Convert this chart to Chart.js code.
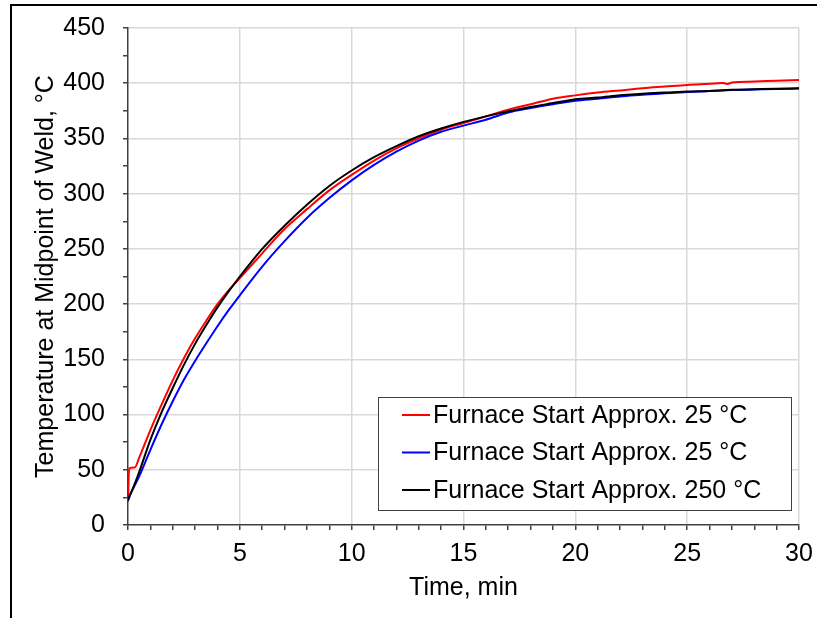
<!DOCTYPE html>
<html>
<head>
<meta charset="utf-8">
<script src="https://cdn.jsdelivr.net/npm/chart.js@4.4.1/dist/chart.umd.min.js"></script>
<style>
  html, body { margin: 0; padding: 0; background: #fff; }
  #wrap { position: relative; width: 817px; height: 618px; overflow: hidden; }
  #frame {
    position: absolute; left: 10px; top: 4px; width: 900px; height: 700px;
    border-left: 2px solid #000; border-top: 2px solid #000; pointer-events: none;
  }
  canvas { position: absolute; left: 0; top: 0; }
</style>
</head>
<body>
<div id="wrap">
  <canvas id="chart" width="817" height="618"></canvas>
  <div id="frame"></div>
</div>
<script>
// Weld midpoint temperature vs. time
const seriesLabels = [
  'Furnace Start Approx. 25 °C',
  'Furnace Start Approx. 25 °C',
  'Furnace Start Approx. 250 °C'
];

const timeRed = [0, 0.05, 0.3, 0.5, 1, 1.5, 2, 2.5, 3, 3.5, 4, 4.5, 5, 6, 7, 8, 9, 10, 11, 12, 13, 14, 15,
  16, 17, 18, 19, 20, 21, 22, 23, 24, 25, 26, 26.6, 26.8, 27, 28, 29, 30];
const tempRed = [21, 51, 52, 61, 86, 109, 131, 151, 169, 185, 200, 212.5, 223.5, 246, 268, 286, 303, 317, 330, 341, 350, 358, 364,
  370, 376, 381, 386, 389, 391.5, 393.5, 395.5, 397, 398.5, 399.5, 400.2, 399.4, 400.6, 401.5, 402.3, 403];

const timeBlue = [0, 0.5, 1, 1.5, 2, 2.5, 3, 3.5, 4, 4.5, 5, 6, 7, 8, 9, 10, 11, 12, 13, 14, 15,
  16, 17, 18, 19, 20, 21, 22, 23, 24, 25, 26, 27, 28, 29, 30];
const tempBlue = [24, 44, 68, 91, 112, 131.5, 148.5, 164.5, 180, 194.5, 208, 234, 257, 278, 296, 312, 326, 338, 348, 356, 361.6,
  367, 373.5, 377.5, 381, 384.2, 386, 388, 389.5, 391, 392, 393, 393.8, 394.3, 394.8, 395.2];

const timeBlack = [0, 0.5, 1, 1.5, 2, 2.5, 3, 3.5, 4, 4.5, 5, 6, 7, 8, 9, 10, 11, 12, 13, 14, 15,
  16, 17, 18, 19, 20, 21, 22, 23, 24, 25, 26, 27, 28, 29, 30];
const tempBlack = [22, 48, 77, 102, 124, 145, 164, 181, 197, 211.5, 225, 250, 271, 290, 307, 321, 333, 343, 352, 359, 365,
  370, 374.5, 378.5, 382, 385.5, 387, 389, 390.5, 391.5, 392.4, 393, 394, 394.5, 395, 395.4];

const xMin = 0, xMax = 30, xMinor = 1, xMajor = 5;
const yMin = 0, yMax = 450, yMinor = 25, yMajor = 50;

const FONT = '"Liberation Sans", Arial, sans-serif';
const AXIS = '#404040';
const GRID = '#d9d9d9';

function toPoints(xs, ys) {
  return xs.map((x, i) => ({ x: x, y: ys[i] }));
}

// Boxed legend drawn inside the plot, lower right
const boxLegend = {
  id: 'boxLegend',
  afterDatasetsDraw(chart) {
    const { ctx, chartArea } = chart;
    const w = 413, h = 113;
    const x = chartArea.right - 8 - w;
    const y = chartArea.bottom - 15 - h;
    ctx.save();
    ctx.fillStyle = '#fff';
    ctx.fillRect(x, y, w, h);
    ctx.strokeStyle = AXIS;
    ctx.lineWidth = 1;
    ctx.strokeRect(x + 0.5, y + 0.5, w, h);
    ctx.font = '25px ' + FONT;
    ctx.textBaseline = 'middle';
    ctx.textAlign = 'left';
    chart.data.datasets.forEach((ds, i) => {
      const cy = y + 18 + i * 37.5;
      ctx.strokeStyle = ds.borderColor;
      ctx.lineWidth = 2;
      ctx.beginPath();
      ctx.moveTo(x + 24, cy);
      ctx.lineTo(x + 52, cy);
      ctx.stroke();
      ctx.fillStyle = '#000';
      ctx.fillText(ds.label, x + 55, cy + 1);
    });
    ctx.restore();
  }
};

const lineStyle = {
  borderWidth: 2,
  pointRadius: 0,
  fill: false,
  cubicInterpolationMode: 'monotone'
};

new Chart(document.getElementById('chart'), {
  type: 'line',
  data: {
    datasets: [
      Object.assign({ label: seriesLabels[0], data: toPoints(timeRed, tempRed), borderColor: '#ff0000', order: 3 }, lineStyle),
      Object.assign({ label: seriesLabels[1], data: toPoints(timeBlue, tempBlue), borderColor: '#0000ff', order: 2 }, lineStyle),
      Object.assign({ label: seriesLabels[2], data: toPoints(timeBlack, tempBlack), borderColor: '#000000', order: 1 }, lineStyle)
    ]
  },
  options: {
    responsive: false,
    animation: false,
    layout: { padding: { left: 0, right: 18, top: 28, bottom: 0 } },
    plugins: {
      legend: { display: false },
      tooltip: { enabled: false }
    },
    scales: {
      x: {
        type: 'linear',
        min: xMin,
        max: xMax,
        afterFit: (scale) => {
          scale.height = 93;
          scale.paddingLeft = 0;
          scale.paddingRight = 0;
        },
        border: { color: AXIS, width: 1.5 },
        grid: {
          lineWidth: 1.5,
          tickLength: 5,
          tickWidth: 1.5,
          tickColor: AXIS,
          color: (c) => (c.tick && c.tick.value % xMajor === 0 && c.tick.value !== xMin) ? GRID : 'rgba(0,0,0,0)'
        },
        ticks: {
          stepSize: xMinor,
          autoSkip: false,
          maxRotation: 0,
          padding: 9,
          color: '#000',
          font: { family: FONT, size: 25 },
          callback: (v) => (v % xMajor === 0 ? String(v) : '')
        },
        title: {
          display: true,
          text: 'Time, min',
          color: '#000',
          font: { family: FONT, size: 25 },
          padding: { top: 0, bottom: 15 }
        }
      },
      y: {
        min: yMin,
        max: yMax,
        afterFit: (scale) => {
          scale.width = 128;
          scale.paddingTop = 0;
          scale.paddingBottom = 0;
        },
        border: { color: AXIS, width: 1.5 },
        grid: {
          lineWidth: 1.5,
          tickLength: 5,
          tickWidth: 1.5,
          tickColor: AXIS,
          color: (c) => (c.tick && c.tick.value % yMajor === 0 && c.tick.value !== yMin) ? GRID : 'rgba(0,0,0,0)'
        },
        ticks: {
          stepSize: yMinor,
          autoSkip: false,
          padding: 18,
          color: '#000',
          font: { family: FONT, size: 25 },
          callback: (v) => (v % yMajor === 0 ? String(v) : '')
        },
        title: {
          display: true,
          text: 'Temperature at Midpoint of Weld, °C',
          color: '#000',
          font: { family: FONT, size: 25 },
          padding: { top: 31, bottom: 0 }
        }
      }
    }
  },
  plugins: [boxLegend]
});
</script>
</body>
</html>
